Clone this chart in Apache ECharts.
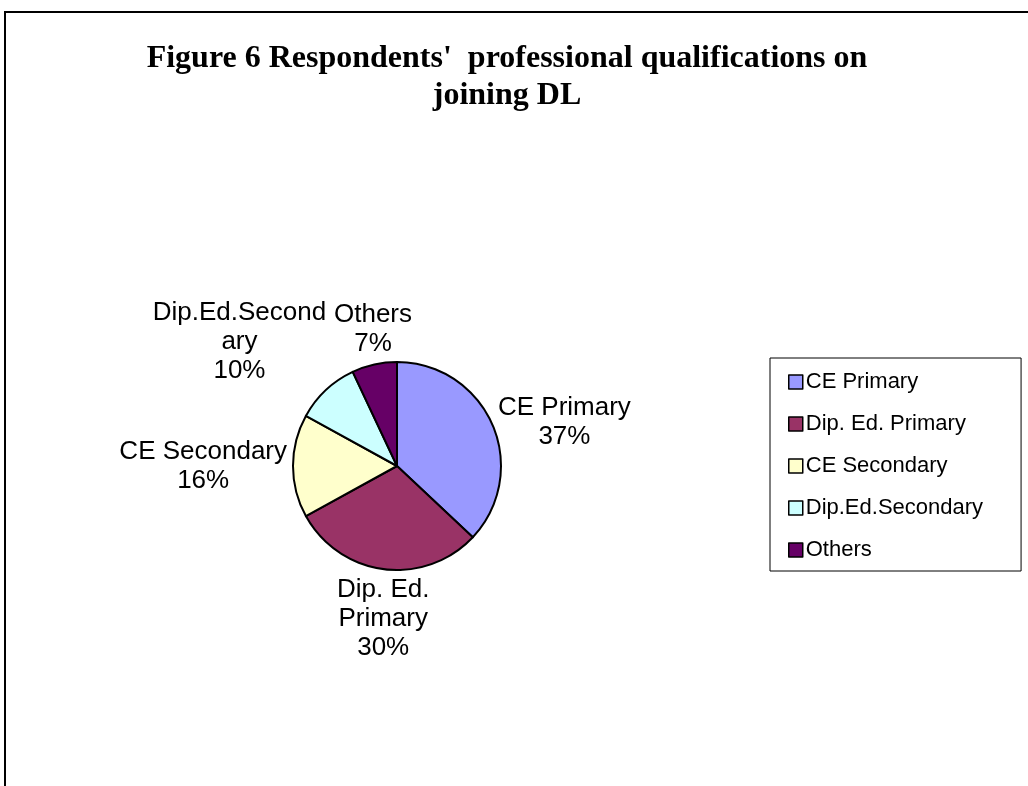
<!DOCTYPE html>
<html>
<head>
<meta charset="utf-8">
<script src="https://cdn.jsdelivr.net/npm/echarts@6/dist/echarts.min.js"></script>
<style>
  html, body { margin: 0; padding: 0; background: #fff; overflow: hidden; }
  #frame { position: absolute; left: 4px; top: 11px; width: 1100px; height: 900px; border: 2px solid #000; }
  #chart { position: absolute; left: 0; top: 0; width: 1028px; height: 786px; }
</style>
</head>
<body>
<div id="frame"></div>
<div id="chart"></div>
<script>
// 数据
const categories = ['CE Primary', 'Dip. Ed. Primary', 'CE Secondary', 'Dip.Ed.Secondary', 'Others']
const labelNames = ['CE Primary', 'Dip. Ed.\nPrimary', 'CE Secondary', 'Dip.Ed.Second\nary', 'Others']
const percents = [37, 30, 16, 10, 7]
const colors = ['#9999FF', '#993366', '#FFFFCC', '#CCFFFF', '#660066']

const CX = 397
const CY = 466
const R = 104
const START = 90

// 标签放在扇区外侧，按角度决定对齐方式（类似 Excel）
function placeLabel(params) {
  const total = percents.reduce((a, b) => a + b, 0)
  let before = 0
  for (let i = 0; i < params.dataIndex; i++) before += percents[i]
  const mid = START - (before + percents[params.dataIndex] / 2) / total * 360
  const rad = mid * Math.PI / 180
  const c = Math.cos(rad)
  const s = -Math.sin(rad)
  const f = t => Math.sign(t) * Math.min(1, Math.max(0, (Math.abs(t) - 0.4) / 0.3))
  const gap = 6
  const px = CX + c * (R + gap)
  const py = CY + s * (R + gap)
  const w = params.labelRect.width
  const h = params.labelRect.height
  return {
    x: px + f(c) * w / 2,
    y: py + f(s) * h / 2,
    align: 'center',
    verticalAlign: 'middle'
  }
}

const chart = echarts.init(document.getElementById('chart'))

const option = {
  animation: false,
  title: {
    text: "Figure 6 Respondents'  professional qualifications on\njoining DL",
    left: 502,
    top: 35,
    textAlign: 'center',
    textStyle: {
      fontFamily: 'Liberation Serif',
      fontWeight: 'bold',
      fontSize: 32,
      lineHeight: 37,
      color: '#000'
    }
  },
  legend: {
    orient: 'vertical',
    left: 770,
    top: 358,
    data: categories,
    icon: 'rect',
    itemWidth: 14,
    itemHeight: 14,
    itemGap: 20,
    padding: [13, 38, 10, 18],
    borderColor: '#000',
    borderWidth: 1,
    itemStyle: { borderColor: '#000', borderWidth: 1.5 },
    textStyle: {
      fontFamily: 'Liberation Sans',
      fontSize: 22,
      color: '#000',
      padding: [0, 0, 0, -2]
    }
  },
  series: [
    {
      type: 'pie',
      center: [CX, CY],
      radius: R,
      startAngle: START,
      clockwise: true,
      avoidLabelOverlap: false,
      itemStyle: { borderColor: '#000', borderWidth: 2 },
      label: {
        position: 'outside',
        fontFamily: 'Liberation Sans',
        fontSize: 26,
        lineHeight: 29,
        color: '#000',
        formatter: p => labelNames[p.dataIndex] + '\n' + p.value + '%'
      },
      labelLine: { show: false },
      labelLayout: placeLabel,
      emphasis: { disabled: true },
      data: categories.map((name, i) => ({
        name: name,
        value: percents[i],
        itemStyle: { color: colors[i] }
      }))
    }
  ]
}

chart.setOption(option)
</script>
</body>
</html>
